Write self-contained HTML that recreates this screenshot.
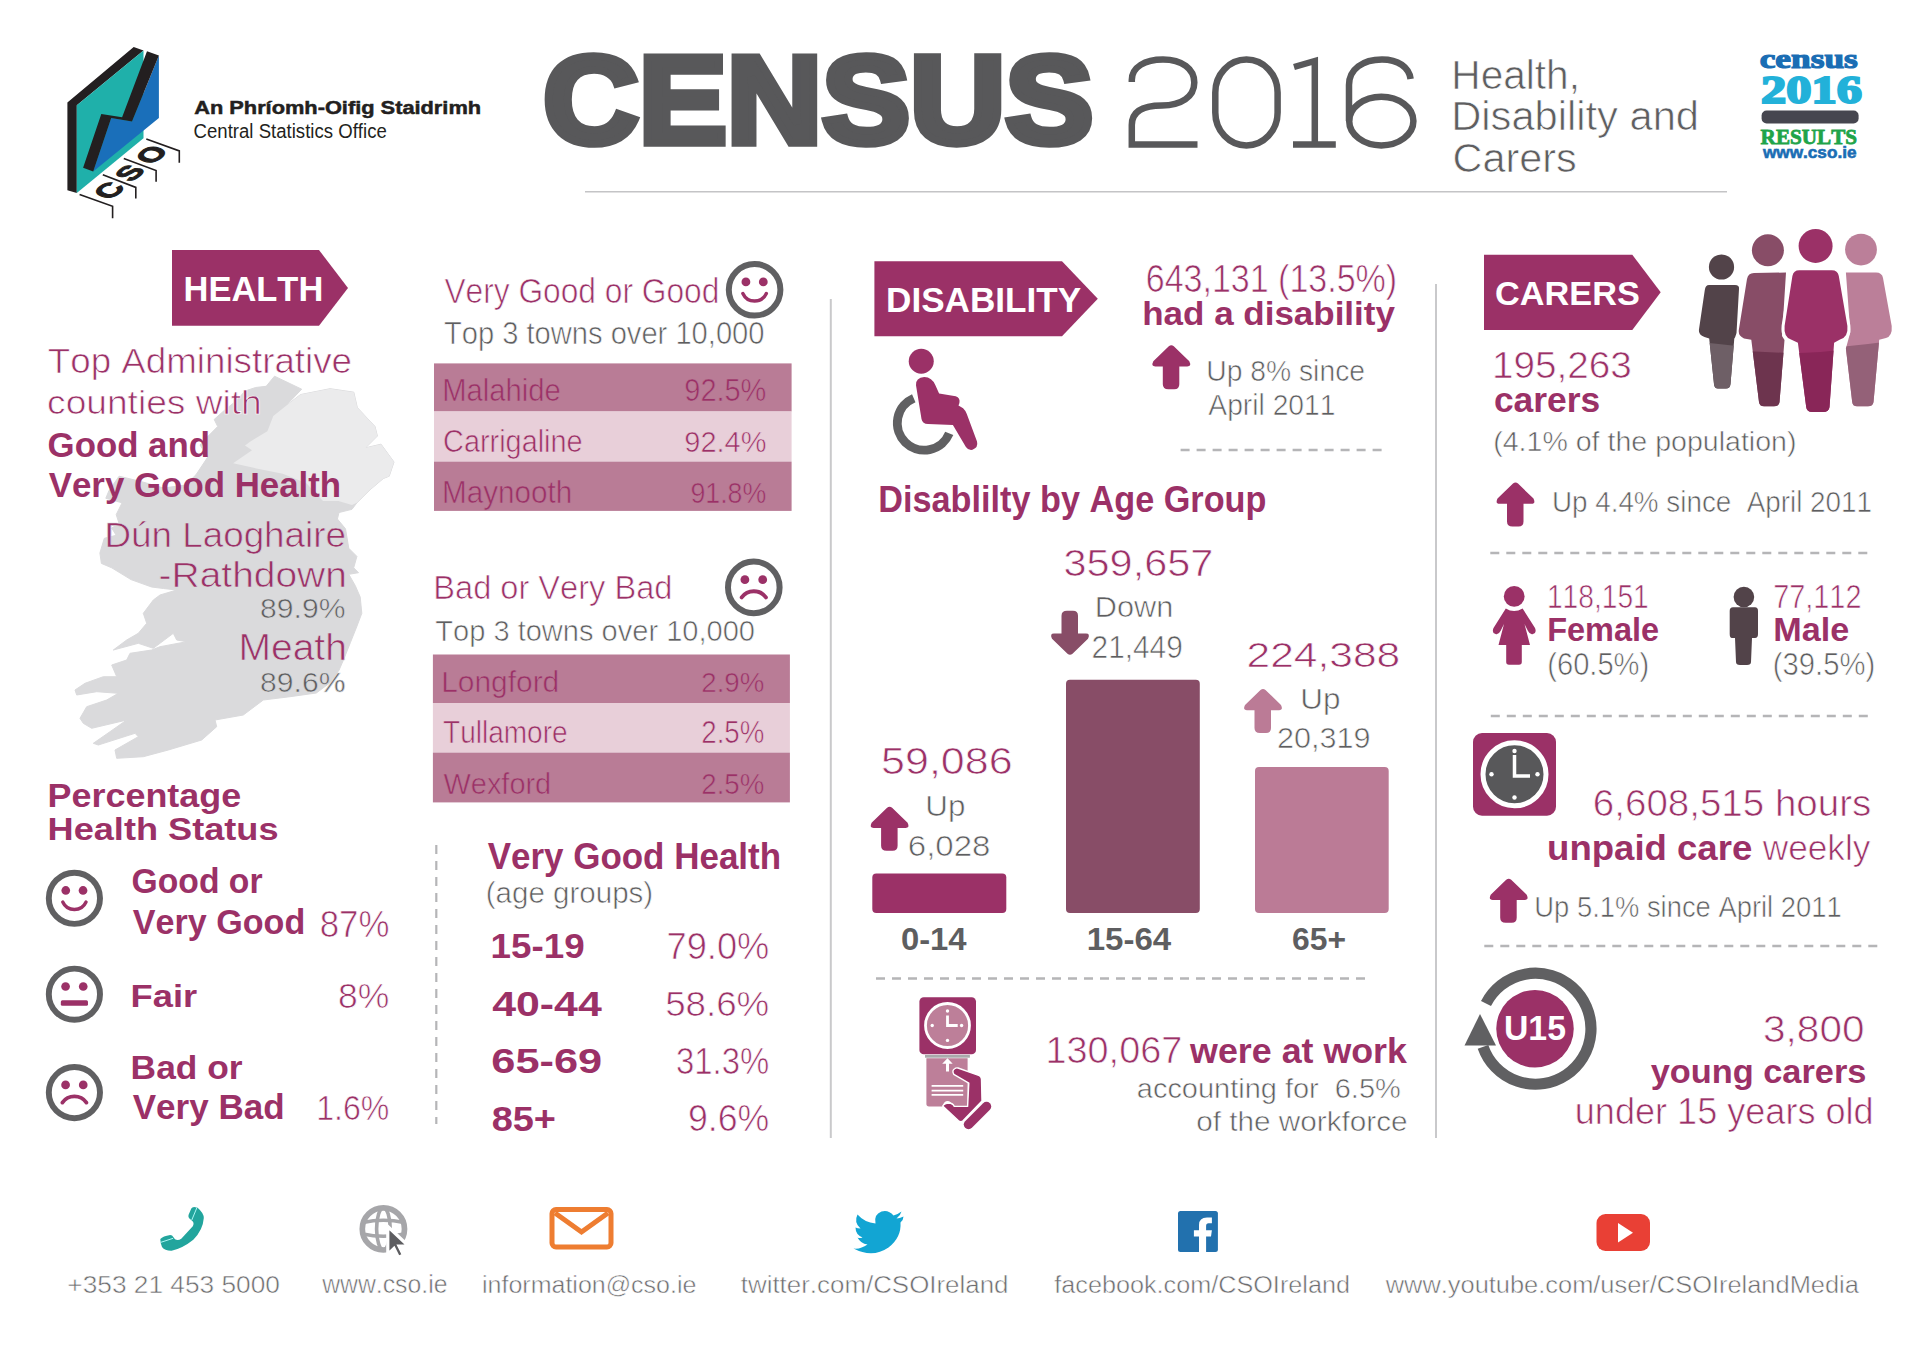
<!DOCTYPE html>
<html><head><meta charset="utf-8"><title>Census 2016 - Health, Disability and Carers</title>
<style>
html,body{margin:0;padding:0;background:#ffffff;}
svg{display:block;}
text{white-space:pre;font-family:"Liberation Sans",sans-serif;font-kerning:none;font-variant-ligatures:none;}
</style></head>
<body>
<svg width="1920" height="1353" viewBox="0 0 1920 1353">
<rect width="1920" height="1353" fill="#ffffff"/>
<polygon fill="#231f20" points="67.4,102.4 133.7,46.9 143.5,50.4 76.8,105.2 76.8,193 67.4,190.2"/>
<polygon fill="#1fb0aa" points="76.8,105.2 143.5,50.4 143.5,138.2 76.8,193"/>
<polygon fill="#1a6fba" points="158.9,55.4 158.9,117.9 93.2,171.5 111.2,117.9 132,121.4"/>
<polygon fill="#231f20" points="147,51.2 158.9,55.4 132,121.4 111.2,117.9 93.2,171.5 83.1,167.7 101.3,113.9 122.1,117.2"/>
<polyline fill="none" stroke="#231f20" stroke-width="1.6" points="79.6,194.4 112.6,206.3 112.6,218.3"/>
<polyline fill="none" stroke="#231f20" stroke-width="1.6" points="102.8,174.7 135.8,187.4 135.8,198.6"/>
<polyline fill="none" stroke="#231f20" stroke-width="1.6" points="123.8,158.6 156.1,170.5 156.1,181.8"/>
<polyline fill="none" stroke="#231f20" stroke-width="1.6" points="146.3,138.9 179.3,150.9 179.3,162.8"/>
<text x="0" y="0" font-size="29" font-weight="bold" fill="#231f20" stroke="#231f20" stroke-width="1.3" text-anchor="middle" transform="translate(109.1,190.4) matrix(0.767,-0.642,0.94,0.34,0,0)" dy="10">C</text>
<text x="0" y="0" font-size="29" font-weight="bold" fill="#231f20" stroke="#231f20" stroke-width="1.3" text-anchor="middle" transform="translate(129.8,172.8) matrix(0.767,-0.642,0.94,0.34,0,0)" dy="10">S</text>
<text x="0" y="0" font-size="29" font-weight="bold" fill="#231f20" stroke="#231f20" stroke-width="1.3" text-anchor="middle" transform="translate(151.6,154.7) matrix(0.767,-0.642,0.94,0.34,0,0)" dy="10">O</text>
<text x="194.21" y="114.35" font-size="18.75" font-weight="bold" fill="#231f20" stroke="#231f20" stroke-width="0.5" stroke-linejoin="miter" textLength="286.89" lengthAdjust="spacingAndGlyphs">An Phríomh-Oifig Staidrimh</text>
<text x="193.56" y="137.60" font-size="19.77" fill="#231f20" textLength="193.27" lengthAdjust="spacingAndGlyphs">Central Statistics Office</text>
<text x="543.34" y="143.25" font-size="123.55" font-weight="bold" fill="#58585a" stroke="#58585a" stroke-width="7.5" stroke-linejoin="miter" textLength="550.07" lengthAdjust="spacingAndGlyphs">CENSUS</text>
<g fill="none" stroke="#58585a" stroke-width="6.5"><path d="M1131.8,82 L1131.8,80 C1131.8,67 1145,59.5 1163,59.5 C1182,59.5 1194.3,69 1194.3,82.5 C1194.3,97 1181,105.5 1162,105.5 C1143,105.5 1131.8,111 1131.8,125 L1131.8,144.5 L1197.5,144.5"/><rect x="1215.3" y="59.5" width="62.3" height="86" rx="31.1" ry="33"/><path d="M1294,67 L1314.8,61 L1314.8,144.5 M1293,144.5 L1335.8,144.5"/><path d="M1349,121 L1349,85 C1349,69 1363,59.5 1382,59.5 C1398,59.5 1409,67 1410.6,79"/><ellipse cx="1381.3" cy="121.1" rx="32.1" ry="24.3"/></g>
<text x="1451.32" y="88.75" font-size="40.84" fill="#5e5e60" stroke="#ffffff" stroke-width="0.70" textLength="128.68" lengthAdjust="spacingAndGlyphs">Health,</text>
<text x="1451.23" y="130.35" font-size="40.26" fill="#5e5e60" stroke="#ffffff" stroke-width="0.70" textLength="247.80" lengthAdjust="spacingAndGlyphs">Disability and</text>
<text x="1452.55" y="172.35" font-size="40.26" fill="#5e5e60" stroke="#ffffff" stroke-width="0.70" textLength="124.30" lengthAdjust="spacingAndGlyphs">Carers</text>
<line x1="585" y1="191.8" x2="1727" y2="191.8" stroke="#c4c4c6" stroke-width="1.6"/>
<text x="1759.69" y="67.70" font-size="27.65" font-weight="bold" fill="#1a6db4" stroke="#1a6db4" stroke-width="1.2" stroke-linejoin="miter" textLength="98.08" lengthAdjust="spacingAndGlyphs" style="font-family:'Liberation Serif',serif">census</text>
<text x="1761.13" y="103.30" font-size="40.97" font-weight="bold" fill="#22b1d9" stroke="#22b1d9" stroke-width="2.2" stroke-linejoin="miter" textLength="100.91" lengthAdjust="spacingAndGlyphs" style="font-family:'Liberation Serif',serif">2016</text>
<rect x="1761.6" y="110.5" width="97" height="13" rx="5" fill="#46464f"/>
<text x="1760.62" y="143.80" font-size="21.80" font-weight="bold" fill="#1fa449" stroke="#1fa449" stroke-width="0.8" stroke-linejoin="miter" textLength="96.49" lengthAdjust="spacingAndGlyphs" style="font-family:'Liberation Serif',serif">RESULTS</text>
<text x="1762.95" y="158.30" font-size="17.05" font-weight="bold" fill="#1a6db4" stroke="#1a6db4" stroke-width="0.6" stroke-linejoin="miter" textLength="93.54" lengthAdjust="spacingAndGlyphs">www.cso.ie</text>
<polygon fill="#9b3167" points="172,250 319,250 348,288 319,325.7 172,325.7"/>
<text x="183.49" y="301.00" font-size="34.88" font-weight="bold" fill="#ffffff" textLength="139.83" lengthAdjust="spacingAndGlyphs">HEALTH</text>
<polygon fill="#dadadc" stroke="#dadadc" stroke-width="1" stroke-linejoin="round" points="274.5,376.2 301.7,389.2 285.2,406.4 300.5,394.6 330.1,388.7 353.8,392.2 357.3,407.6 375,426.5 377.4,436 365.6,447.8 381,444.2 394,462 389.2,476.2 383.3,478.5 370,489.8 356.9,502.8 352,509.3 339,512.5 337.4,519 345.5,528.8 348.8,548.3 356.9,556.4 353.7,567.8 358.5,572.7 348.8,574.3 355.3,585.7 360.2,597 361.8,613.3 356.9,626.3 350.4,642.6 343.9,658.9 339,670.2 329.3,683.3 316.3,693 290,696.7 263.3,700 243.3,715 215,720 216.7,726.7 201.7,740 168.3,750 143.3,756.7 116.7,758.3 115,750 138.3,736.7 135,733.3 98.3,745 93.3,743.3 110,731.7 126.7,720 91.7,728.3 83.3,723.3 80,718.3 86.7,706.7 106.7,700 118.3,693.3 96.7,691.7 76.7,695 75,690 85,683.3 103.3,676.7 116.7,676.7 111.7,665 126.7,660 130,653.3 151.7,650 160,646.7 186.7,641.7 176.7,640 173.3,633.3 153.3,648.3 138.3,643.3 113.3,650 126.7,640 138.3,633.3 146.7,623.3 143.3,613.3 153.3,600 160,595 176.7,590 163.5,588.5 151.6,587 131,579.6 111.7,567.8 101.4,563.4 99.9,553 104.3,538.3 116.2,535.3 111.7,528 119.1,523.5 116.2,514.6 122.1,502.8 105.8,498.3 108.8,491 119.1,476.2 142.8,482 163.5,488 185.6,485 196,474.7 207.8,457 200,445 208.3,436 217.7,426.5 214.2,419.4 224.8,410 236.7,400.5 245,391 255.6,387.5 266.2,386.3"/>
<polygon fill="#ebebec" points="285.2,406.4 300.5,394.6 330.1,388.7 353.8,392.2 357.3,407.6 375,426.5 377.4,436 365.6,447.8 381,444.2 394,462 389.2,476.2 383.3,478.5 370,489.8 356.9,502.8 352,505 338.4,501 323,501 306.4,483.3 282.8,473.8 259,469 233.1,463.2 252,450.2 245,445.4 249.7,441.9 267.4,431.2 273.3,415.9"/>
<text x="47.82" y="373.35" font-size="35.17" fill="#9b3167" stroke="#ffffff" stroke-width="0.70" textLength="304.16" lengthAdjust="spacingAndGlyphs">Top Administrative</text>
<text x="47.07" y="414.35" font-size="33.26" fill="#9b3167" stroke="#ffffff" stroke-width="0.70" textLength="214.69" lengthAdjust="spacingAndGlyphs">counties with</text>
<text x="47.57" y="456.50" font-size="35.90" font-weight="bold" fill="#9b3167" textLength="162.42" lengthAdjust="spacingAndGlyphs">Good and</text>
<text x="48.76" y="496.50" font-size="35.61" font-weight="bold" fill="#9b3167" textLength="292.40" lengthAdjust="spacingAndGlyphs">Very Good Health</text>
<text x="104.43" y="546.95" font-size="35.32" fill="#9b3167" stroke="#dadadc" stroke-width="0.70" textLength="241.56" lengthAdjust="spacingAndGlyphs">Dún Laoghaire</text>
<text x="158.62" y="586.95" font-size="35.32" fill="#9b3167" stroke="#dadadc" stroke-width="0.70" textLength="188.26" lengthAdjust="spacingAndGlyphs">-Rathdown</text>
<text x="260.14" y="618.35" font-size="26.79" fill="#5e5e60" stroke="#dadadc" stroke-width="0.56" textLength="85.28" lengthAdjust="spacingAndGlyphs">89.9%</text>
<text x="238.45" y="660.35" font-size="36.48" fill="#9b3167" stroke="#dadadc" stroke-width="0.70" textLength="108.43" lengthAdjust="spacingAndGlyphs">Meath</text>
<text x="260.14" y="691.95" font-size="27.94" fill="#5e5e60" stroke="#dadadc" stroke-width="0.59" textLength="85.28" lengthAdjust="spacingAndGlyphs">89.6%</text>
<text x="47.60" y="807.30" font-size="32.41" font-weight="bold" fill="#9b3167" textLength="193.63" lengthAdjust="spacingAndGlyphs">Percentage</text>
<text x="47.58" y="839.80" font-size="32.27" font-weight="bold" fill="#9b3167" textLength="230.90" lengthAdjust="spacingAndGlyphs">Health Status</text>
<circle cx="74.4" cy="898.3" r="25.6" fill="none" stroke="#606062" stroke-width="5.94"/>
<circle cx="65.77" cy="890.47" r="4.35" fill="#9b3167"/><circle cx="83.03" cy="890.47" r="4.35" fill="#9b3167"/>
<path d="M62.75,901.96 A12.80,12.80 0 0 0 86.05,901.96" fill="none" stroke="#9b3167" stroke-width="3.38" stroke-linecap="round"/>
<circle cx="74.4" cy="994.2" r="25.6" fill="none" stroke="#606062" stroke-width="5.94"/>
<circle cx="65.57" cy="986.52" r="4.35" fill="#9b3167"/><circle cx="83.23" cy="986.52" r="4.35" fill="#9b3167"/>
<rect x="60.83" y="1000.22" width="27.14" height="5.63" rx="1.54" fill="#9b3167"/>
<circle cx="74.4" cy="1092.6" r="25.6" fill="none" stroke="#606062" stroke-width="5.94"/>
<circle cx="65.57" cy="1084.92" r="4.35" fill="#9b3167"/><circle cx="83.23" cy="1084.92" r="4.35" fill="#9b3167"/>
<path d="M62.37,1102.58 A14.85,14.85 0 0 1 86.43,1102.58" fill="none" stroke="#9b3167" stroke-width="3.84" stroke-linecap="round"/>
<text x="131.62" y="893.00" font-size="34.30" font-weight="bold" fill="#9b3167" textLength="130.89" lengthAdjust="spacingAndGlyphs">Good or</text>
<text x="132.77" y="934.40" font-size="34.30" font-weight="bold" fill="#9b3167" textLength="172.48" lengthAdjust="spacingAndGlyphs">Very Good</text>
<text x="319.74" y="937.15" font-size="36.53" fill="#9b3167" stroke="#ffffff" stroke-width="0.70" textLength="69.65" lengthAdjust="spacingAndGlyphs">87%</text>
<text x="130.57" y="1006.80" font-size="32.27" font-weight="bold" fill="#9b3167" textLength="66.58" lengthAdjust="spacingAndGlyphs">Fair</text>
<text x="338.11" y="1008.35" font-size="34.53" fill="#9b3167" stroke="#ffffff" stroke-width="0.70" textLength="51.31" lengthAdjust="spacingAndGlyphs">8%</text>
<text x="130.64" y="1079.00" font-size="34.01" font-weight="bold" fill="#9b3167" textLength="111.90" lengthAdjust="spacingAndGlyphs">Bad or</text>
<text x="132.76" y="1119.00" font-size="34.16" font-weight="bold" fill="#9b3167" textLength="151.85" lengthAdjust="spacingAndGlyphs">Very Bad</text>
<text x="316.21" y="1119.85" font-size="35.39" fill="#9b3167" stroke="#ffffff" stroke-width="0.70" textLength="73.09" lengthAdjust="spacingAndGlyphs">1.6%</text>
<text x="444.41" y="302.55" font-size="34.16" fill="#9b3167" stroke="#ffffff" stroke-width="0.70" textLength="274.98" lengthAdjust="spacingAndGlyphs">Very Good or Good</text>
<circle cx="754.6" cy="289.8" r="25.8" fill="none" stroke="#606062" stroke-width="5.99"/>
<circle cx="745.91" cy="281.91" r="4.39" fill="#9b3167"/><circle cx="763.29" cy="281.91" r="4.39" fill="#9b3167"/>
<path d="M742.86,293.49 A12.90,12.90 0 0 0 766.34,293.49" fill="none" stroke="#9b3167" stroke-width="3.41" stroke-linecap="round"/>
<text x="443.90" y="344.35" font-size="30.67" fill="#5e5e60" stroke="#ffffff" stroke-width="0.64" textLength="320.59" lengthAdjust="spacingAndGlyphs">Top 3 towns over 10,000</text>
<rect x="434" y="363.4" width="357.6" height="48.10000000000002" fill="#b97c96"/>
<rect x="434" y="411.5" width="357.6" height="50.10000000000002" fill="#e8cfd9"/>
<rect x="434" y="461.6" width="357.6" height="49.299999999999955" fill="#b97c96"/>
<text x="442.15" y="401.05" font-size="31.10" fill="#9b3167" stroke="#b97c96" stroke-width="0.65" textLength="118.49" lengthAdjust="spacingAndGlyphs">Malahide</text>
<text x="684.29" y="401.05" font-size="30.66" fill="#9b3167" stroke="#b97c96" stroke-width="0.64" textLength="82.09" lengthAdjust="spacingAndGlyphs">92.5%</text>
<text x="443.08" y="452.35" font-size="30.67" fill="#9b3167" stroke="#e8cfd9" stroke-width="0.64" textLength="139.55" lengthAdjust="spacingAndGlyphs">Carrigaline</text>
<text x="684.29" y="452.35" font-size="30.23" fill="#9b3167" stroke="#e8cfd9" stroke-width="0.63" textLength="82.09" lengthAdjust="spacingAndGlyphs">92.4%</text>
<text x="442.12" y="502.65" font-size="30.52" fill="#9b3167" stroke="#b97c96" stroke-width="0.64" textLength="130.16" lengthAdjust="spacingAndGlyphs">Maynooth</text>
<text x="690.40" y="502.65" font-size="30.09" fill="#9b3167" stroke="#b97c96" stroke-width="0.63" textLength="75.91" lengthAdjust="spacingAndGlyphs">91.8%</text>
<text x="433.28" y="599.35" font-size="33.72" fill="#9b3167" stroke="#ffffff" stroke-width="0.70" textLength="239.17" lengthAdjust="spacingAndGlyphs">Bad or Very Bad</text>
<circle cx="753.8" cy="587.4" r="25.8" fill="none" stroke="#606062" stroke-width="5.99"/>
<circle cx="744.90" cy="579.66" r="4.39" fill="#9b3167"/><circle cx="762.70" cy="579.66" r="4.39" fill="#9b3167"/>
<path d="M741.67,597.46 A14.96,14.96 0 0 1 765.93,597.46" fill="none" stroke="#9b3167" stroke-width="3.87" stroke-linecap="round"/>
<text x="435.30" y="641.15" font-size="29.07" fill="#5e5e60" stroke="#ffffff" stroke-width="0.61" textLength="319.69" lengthAdjust="spacingAndGlyphs">Top 3 towns over 10,000</text>
<rect x="432.9" y="654.5" width="357.0" height="48.5" fill="#b97c96"/>
<rect x="432.9" y="703" width="357.0" height="49.60000000000002" fill="#e8cfd9"/>
<rect x="432.9" y="752.6" width="357.0" height="49.799999999999955" fill="#b97c96"/>
<text x="441.20" y="692.35" font-size="28.63" fill="#9b3167" stroke="#b97c96" stroke-width="0.60" textLength="118.08" lengthAdjust="spacingAndGlyphs">Longford</text>
<text x="701.26" y="692.35" font-size="28.22" fill="#9b3167" stroke="#b97c96" stroke-width="0.59" textLength="63.08" lengthAdjust="spacingAndGlyphs">2.9%</text>
<text x="443.02" y="743.15" font-size="31.25" fill="#9b3167" stroke="#e8cfd9" stroke-width="0.66" textLength="124.57" lengthAdjust="spacingAndGlyphs">Tullamore</text>
<text x="701.26" y="743.15" font-size="30.80" fill="#9b3167" stroke="#e8cfd9" stroke-width="0.65" textLength="63.08" lengthAdjust="spacingAndGlyphs">2.5%</text>
<text x="443.52" y="794.15" font-size="30.38" fill="#9b3167" stroke="#b97c96" stroke-width="0.64" textLength="107.69" lengthAdjust="spacingAndGlyphs">Wexford</text>
<text x="701.26" y="794.15" font-size="29.94" fill="#9b3167" stroke="#b97c96" stroke-width="0.63" textLength="63.08" lengthAdjust="spacingAndGlyphs">2.5%</text>
<line x1="436.3" y1="845" x2="436.3" y2="1124" stroke="#b5b5b7" stroke-width="2.2" stroke-dasharray="9 7"/>
<text x="487.66" y="869.00" font-size="36.48" font-weight="bold" fill="#9b3167" textLength="293.41" lengthAdjust="spacingAndGlyphs">Very Good Health</text>
<text x="485.72" y="903.35" font-size="30.38" fill="#5e5e60" stroke="#ffffff" stroke-width="0.64" textLength="167.46" lengthAdjust="spacingAndGlyphs">(age groups)</text>
<text x="490.58" y="958.20" font-size="35.24" font-weight="bold" fill="#9b3167" textLength="94.19" lengthAdjust="spacingAndGlyphs">15-19</text>
<text x="666.59" y="958.55" font-size="36.25" fill="#9b3167" stroke="#ffffff" stroke-width="0.70" textLength="102.65" lengthAdjust="spacingAndGlyphs">79.0%</text>
<text x="492.25" y="1016.00" font-size="34.81" font-weight="bold" fill="#9b3167" textLength="109.48" lengthAdjust="spacingAndGlyphs">40-44</text>
<text x="665.18" y="1016.35" font-size="35.82" fill="#9b3167" stroke="#ffffff" stroke-width="0.70" textLength="104.08" lengthAdjust="spacingAndGlyphs">58.6%</text>
<text x="491.31" y="1073.30" font-size="35.24" font-weight="bold" fill="#9b3167" textLength="110.79" lengthAdjust="spacingAndGlyphs">65-69</text>
<text x="676.00" y="1073.65" font-size="36.25" fill="#9b3167" stroke="#ffffff" stroke-width="0.70" textLength="93.12" lengthAdjust="spacingAndGlyphs">31.3%</text>
<text x="491.70" y="1131.00" font-size="35.10" font-weight="bold" fill="#9b3167" textLength="64.34" lengthAdjust="spacingAndGlyphs">85+</text>
<text x="687.98" y="1131.35" font-size="36.10" fill="#9b3167" stroke="#ffffff" stroke-width="0.70" textLength="81.24" lengthAdjust="spacingAndGlyphs">9.6%</text>
<line x1="830.8" y1="299" x2="830.8" y2="1138" stroke="#c9c9cb" stroke-width="2"/>
<line x1="1436" y1="284" x2="1436" y2="1138" stroke="#c9c9cb" stroke-width="2"/>
<polygon fill="#9b3167" points="874.4,261.25 1062,261.25 1097.8,298.75 1062,336.25 874.4,336.25"/>
<text x="886.05" y="311.90" font-size="34.16" font-weight="bold" fill="#ffffff" textLength="195.12" lengthAdjust="spacingAndGlyphs">DISABILITY</text>
<text x="1145.72" y="291.95" font-size="37.97" fill="#9b3167" stroke="#ffffff" stroke-width="0.70" textLength="251.44" lengthAdjust="spacingAndGlyphs">643,131 (13.5%)</text>
<text x="1142.26" y="325.00" font-size="33.12" font-weight="bold" fill="#9b3167" textLength="252.63" lengthAdjust="spacingAndGlyphs">had a disability</text>
<path transform="translate(1152.3,345.3) scale(1.0)" fill="#9b3167" d="M16.5,1 Q19,-1 21.5,1 L37,16 Q39.5,21.2 35,21.2 L27,21.2 L27,39 Q27,44 22,44 L16,44 Q10.5,44 10.5,39 L10.5,21.2 L3,21.2 Q-1.5,21.2 1,16 Z"/>
<text x="1206.22" y="380.95" font-size="29.51" fill="#5e5e60" stroke="#ffffff" stroke-width="0.62" textLength="158.79" lengthAdjust="spacingAndGlyphs">Up 8% since</text>
<text x="1208.34" y="414.75" font-size="29.65" fill="#5e5e60" stroke="#ffffff" stroke-width="0.62" textLength="127.13" lengthAdjust="spacingAndGlyphs">April 2011</text>
<line x1="1180.6" y1="450" x2="1388.4" y2="450" stroke="#b5b5b7" stroke-width="2.5" stroke-dasharray="9 7"/>
<circle cx="921.25" cy="361.25" r="12.5" fill="#9b3167"/>
<path fill="#9b3167" d="M916,385.2 Q915.5,377.5 924.3,376.9 Q932,377 935.4,385.2 L939.1,393.6 L955.7,396.3 Q960.5,398 959.4,403 L958.5,405.6 L963.1,408.3 Q965,410 966.8,413.9 L977,441.6 Q978.5,447.5 972.5,449.8 Q968,450.5 965.9,447.1 L952.9,425 L928,424 Q922.5,424 921.5,419 Z"/>
<path fill="none" stroke="#606062" stroke-width="8.8" d="M913.75,398.25 A27,27 0 1 0 949.25,433.4"/>
<text x="878.31" y="511.90" font-size="36.34" font-weight="bold" fill="#9b3167" textLength="388.09" lengthAdjust="spacingAndGlyphs">Disablilty by Age Group</text>
<rect x="872.3" y="873.5" width="134" height="39.5" rx="4" fill="#9b3167"/>
<rect x="1066" y="679.7" width="133.8" height="233.3" rx="4" fill="#884d67"/>
<rect x="1255" y="767" width="133.7" height="146" rx="4" fill="#bb7b96"/>
<text x="881.13" y="774.15" font-size="37.25" fill="#9b3167" stroke="#ffffff" stroke-width="0.70" textLength="131.41" lengthAdjust="spacingAndGlyphs">59,086</text>
<text x="925.23" y="815.65" font-size="29.07" fill="#5e5e60" stroke="#ffffff" stroke-width="0.61" textLength="40.14" lengthAdjust="spacingAndGlyphs">Up</text>
<text x="907.77" y="855.55" font-size="29.51" fill="#5e5e60" stroke="#ffffff" stroke-width="0.62" textLength="82.71" lengthAdjust="spacingAndGlyphs">6,028</text>
<path transform="translate(870.6,806.7) scale(1.0)" fill="#9b3167" d="M16.5,1 Q19,-1 21.5,1 L37,16 Q39.5,21.2 35,21.2 L27,21.2 L27,39 Q27,44 22,44 L16,44 Q10.5,44 10.5,39 L10.5,21.2 L3,21.2 Q-1.5,21.2 1,16 Z"/>
<text x="1063.57" y="575.95" font-size="37.68" fill="#9b3167" stroke="#ffffff" stroke-width="0.70" textLength="149.66" lengthAdjust="spacingAndGlyphs">359,657</text>
<text x="1094.83" y="616.85" font-size="30.09" fill="#5e5e60" stroke="#ffffff" stroke-width="0.63" textLength="78.51" lengthAdjust="spacingAndGlyphs">Down</text>
<text x="1091.55" y="657.75" font-size="31.09" fill="#5e5e60" stroke="#ffffff" stroke-width="0.65" textLength="91.21" lengthAdjust="spacingAndGlyphs">21,449</text>
<path transform="translate(1051,654.8) scale(1.0,-1.0)" fill="#884d67" d="M16.5,1 Q19,-1 21.5,1 L37,16 Q39.5,21.2 35,21.2 L27,21.2 L27,39 Q27,44 22,44 L16,44 Q10.5,44 10.5,39 L10.5,21.2 L3,21.2 Q-1.5,21.2 1,16 Z"/>
<text x="1246.51" y="667.35" font-size="35.39" fill="#9b3167" stroke="#ffffff" stroke-width="0.70" textLength="153.69" lengthAdjust="spacingAndGlyphs">224,388</text>
<text x="1300.22" y="708.95" font-size="28.63" fill="#5e5e60" stroke="#ffffff" stroke-width="0.60" textLength="40.25" lengthAdjust="spacingAndGlyphs">Up</text>
<text x="1277.11" y="748.15" font-size="28.65" fill="#5e5e60" stroke="#ffffff" stroke-width="0.60" textLength="93.48" lengthAdjust="spacingAndGlyphs">20,319</text>
<path transform="translate(1244,689) scale(1.0)" fill="#bb7b96" d="M16.5,1 Q19,-1 21.5,1 L37,16 Q39.5,21.2 35,21.2 L27,21.2 L27,39 Q27,44 22,44 L16,44 Q10.5,44 10.5,39 L10.5,21.2 L3,21.2 Q-1.5,21.2 1,16 Z"/>
<text x="900.90" y="949.70" font-size="30.52" font-weight="bold" fill="#5e5e60" textLength="65.67" lengthAdjust="spacingAndGlyphs">0-14</text>
<text x="1086.72" y="949.70" font-size="30.52" font-weight="bold" fill="#5e5e60" textLength="84.46" lengthAdjust="spacingAndGlyphs">15-64</text>
<text x="1292.14" y="949.70" font-size="30.52" font-weight="bold" fill="#5e5e60" textLength="53.95" lengthAdjust="spacingAndGlyphs">65+</text>
<line x1="876" y1="978.5" x2="1372" y2="978.5" stroke="#b5b5b7" stroke-width="2.5" stroke-dasharray="9 7"/>
<rect x="919.4" y="997.2" width="56.6" height="57.1" rx="4.4" fill="#9b3167"/>
<circle cx="947.5" cy="1025.5" r="22" fill="#bd7f99" stroke="#ffffff" stroke-width="2.8"/>
<path d="M947.5,1015.5 L947.5,1025.5 L957.7,1025.5" fill="none" stroke="#fff" stroke-width="2.8"/>
<g fill="#fff"><circle cx="947.5" cy="1011" r="1.7"/><circle cx="947.5" cy="1040.4" r="1.7"/><circle cx="932.2" cy="1025.5" r="1.7"/><circle cx="961.6" cy="1025.5" r="1.7"/></g>
<rect x="925" y="1054.9" width="44.9" height="2.8" fill="#a9a9ab"/>
<path fill="#bd7f99" d="M926.4,1058.2 L967.6,1058.2 L967.6,1106.4 L953,1106.4 Q951,1101 947.7,1101 Q944,1101 942.5,1106.4 L929,1106.4 Q926.4,1106.4 926.4,1104 Z"/>
<path fill="#fff" d="M947.5,1058.2 L952.7,1063.7 L949,1063.7 L949,1071.5 L946,1071.5 L946,1063.7 L942.2,1063.7 Z"/>
<g stroke="#fff" stroke-width="1.8"><line x1="931.6" y1="1085.9" x2="963.2" y2="1085.9"/><line x1="931.6" y1="1090.6" x2="963.2" y2="1090.6"/><line x1="931.6" y1="1094.8" x2="963.2" y2="1094.8"/></g>
<path fill="#9b3167" stroke="#fff" stroke-width="1.4" stroke-linejoin="round" d="M955,1068.5 Q951.5,1070.5 953.8,1074.3 L968.8,1083.1 L967.6,1106.4 L954.3,1106.4 Q953,1103.3 948.8,1103 Q944.5,1103 942.7,1106 L958.5,1120.8 Q961,1122.5 963,1120.8 L982,1100.9 L981.5,1079 Q981,1076 978.7,1075.4 L958,1068 Q956,1067.5 955,1068.5 Z"/>
<line x1="968.5" y1="1124.5" x2="986.5" y2="1106.5" stroke="#fff" stroke-width="12.5" stroke-linecap="round"/>
<line x1="968.5" y1="1124.5" x2="986.5" y2="1106.5" stroke="#9b3167" stroke-width="9.5" stroke-linecap="round"/>
<text x="1045.52" y="1062.85" font-size="36.82" fill="#9b3167" stroke="#ffffff" stroke-width="0.70" textLength="136.73" lengthAdjust="spacingAndGlyphs">130,067</text>
<text x="1190.10" y="1062.50" font-size="34.50" font-weight="bold" fill="#9b3167" textLength="216.86" lengthAdjust="spacingAndGlyphs">were at work</text>
<text x="1136.82" y="1097.85" font-size="27.88" fill="#5e5e60" stroke="#ffffff" stroke-width="0.59" textLength="263.96" lengthAdjust="spacingAndGlyphs">accounting for  6.5%</text>
<text x="1196.20" y="1130.65" font-size="27.60" fill="#5e5e60" stroke="#ffffff" stroke-width="0.58" textLength="211.47" lengthAdjust="spacingAndGlyphs">of the workforce</text>
<polygon fill="#9b3167" points="1484,254.7 1632.3,254.7 1660.7,292.3 1632.3,330 1484,330"/>
<text x="1495.09" y="305.40" font-size="33.58" font-weight="bold" fill="#ffffff" textLength="144.74" lengthAdjust="spacingAndGlyphs">CARERS</text>
<clipPath id="cp1"><path d="M1690,341 Q1720,344 1745,347 L1745,400 L1690,400 Z"/></clipPath>
<circle cx="1721.5" cy="267" r="12.6" fill="#524349"/>
<path d="M1709,285 L1735,285 Q1739.5,285 1739,289 L1736.5,333 Q1735,338 1734.3,338.5 L1730.5,384 Q1730,388.5 1726,388.5 L1718,388.5 Q1714.4,388.5 1714,384 L1709.2,338.5 L1704.5,337 Q1698.5,335 1698.9,330 L1704.8,290 Q1705.5,285 1709,285 Z" fill="#524349"/>
<path d="M1709,285 L1735,285 Q1739.5,285 1739,289 L1736.5,333 Q1735,338 1734.3,338.5 L1730.5,384 Q1730,388.5 1726,388.5 L1718,388.5 Q1714.4,388.5 1714,384 L1709.2,338.5 L1704.5,337 Q1698.5,335 1698.9,330 L1704.8,290 Q1705.5,285 1709,285 Z" fill="#6e5f66" clip-path="url(#cp1)"/>
<clipPath id="cp2"><path d="M1730,350 Q1760,352 1790,353 L1790,420 L1730,420 Z"/></clipPath>
<circle cx="1767.9" cy="250.3" r="16" fill="#884d67"/>
<path d="M1754,273 L1786,272.5 L1782,336 L1784.5,340 L1779.5,402 Q1779,406.2 1774,406.2 L1764,406.2 Q1759.5,406.2 1759,402 L1751.3,339.7 L1744,338.5 Q1738,336 1738.8,330 L1747,279 Q1748,273 1754,273 Z" fill="#884d67"/>
<path d="M1754,273 L1786,272.5 L1782,336 L1784.5,340 L1779.5,402 Q1779,406.2 1774,406.2 L1764,406.2 Q1759.5,406.2 1759,402 L1751.3,339.7 L1744,338.5 Q1738,336 1738.8,330 L1747,279 Q1748,273 1754,273 Z" fill="#6d344e" clip-path="url(#cp2)"/>
<clipPath id="cp4"><path d="M1840,347 Q1870,344 1900,340 L1900,420 L1840,420 Z"/></clipPath>
<circle cx="1861" cy="249.6" r="15.9" fill="#bb7f99"/>
<path d="M1845.9,272.5 L1876,272.5 Q1882,272.5 1883,278 L1891.7,326 Q1892.5,336 1886,338 L1879.2,339.7 L1873.5,402 Q1873,406.2 1868,406.2 L1857,406.2 Q1852.6,406.2 1852.2,402 L1845.9,348.6 L1850.3,332.3 Z" fill="#bb7f99"/>
<path d="M1845.9,272.5 L1876,272.5 Q1882,272.5 1883,278 L1891.7,326 Q1892.5,336 1886,338 L1879.2,339.7 L1873.5,402 Q1873,406.2 1868,406.2 L1857,406.2 Q1852.6,406.2 1852.2,402 L1845.9,348.6 L1850.3,332.3 Z" fill="#946178" clip-path="url(#cp4)"/>
<clipPath id="cp3"><path d="M1780,353 Q1815,354 1850,348.6 L1850,420 L1780,420 Z"/></clipPath>
<path d="M1799.4,270.2 L1831.8,270.2 Q1837.8,270.2 1838.8,276 L1847.4,326 Q1848.5,337 1840,339.5 L1834.1,342.7 L1829.5,407 Q1829,412.1 1823,412.1 L1812.5,412.1 Q1806.7,412.1 1806.2,407 L1797.9,342.7 L1791,339.5 Q1783.5,337 1784.6,326 L1792.4,276 Q1793.4,270.2 1799.4,270.2 Z" fill="#fff" stroke="#fff" stroke-width="6" stroke-linejoin="round"/>
<circle cx="1815.6" cy="245.9" r="17" fill="#9b3167"/>
<path d="M1799.4,270.2 L1831.8,270.2 Q1837.8,270.2 1838.8,276 L1847.4,326 Q1848.5,337 1840,339.5 L1834.1,342.7 L1829.5,407 Q1829,412.1 1823,412.1 L1812.5,412.1 Q1806.7,412.1 1806.2,407 L1797.9,342.7 L1791,339.5 Q1783.5,337 1784.6,326 L1792.4,276 Q1793.4,270.2 1799.4,270.2 Z" fill="#9b3167"/>
<path d="M1799.4,270.2 L1831.8,270.2 Q1837.8,270.2 1838.8,276 L1847.4,326 Q1848.5,337 1840,339.5 L1834.1,342.7 L1829.5,407 Q1829,412.1 1823,412.1 L1812.5,412.1 Q1806.7,412.1 1806.2,407 L1797.9,342.7 L1791,339.5 Q1783.5,337 1784.6,326 L1792.4,276 Q1793.4,270.2 1799.4,270.2 Z" fill="#892658" clip-path="url(#cp3)"/>
<text x="1492.01" y="378.35" font-size="37.82" fill="#9b3167" stroke="#ffffff" stroke-width="0.70" textLength="139.74" lengthAdjust="spacingAndGlyphs">195,263</text>
<text x="1493.92" y="411.70" font-size="35.42" font-weight="bold" fill="#9b3167" textLength="106.34" lengthAdjust="spacingAndGlyphs">carers</text>
<text x="1493.18" y="451.05" font-size="26.74" fill="#5e5e60" stroke="#ffffff" stroke-width="0.56" textLength="303.34" lengthAdjust="spacingAndGlyphs">(4.1% of the population)</text>
<path transform="translate(1496.5,482.6) scale(1.0)" fill="#9b3167" d="M16.5,1 Q19,-1 21.5,1 L37,16 Q39.5,21.2 35,21.2 L27,21.2 L27,39 Q27,44 22,44 L16,44 Q10.5,44 10.5,39 L10.5,21.2 L3,21.2 Q-1.5,21.2 1,16 Z"/>
<text x="1551.90" y="511.85" font-size="30.23" fill="#5e5e60" stroke="#ffffff" stroke-width="0.63" textLength="320.10" lengthAdjust="spacingAndGlyphs">Up 4.4% since  April 2011</text>
<line x1="1490.3" y1="553" x2="1868.5" y2="553" stroke="#b5b5b7" stroke-width="2.5" stroke-dasharray="9 7"/>
<circle cx="1514.2" cy="596.4" r="10.4" fill="#9b3167"/>
<path fill="#9b3167" d="M1505.8,608.5 Q1514,613.5 1522.6,608.5 L1535,628 Q1537,633 1533,634 Q1530,635 1528,631 L1524.5,624 L1530,645 L1521.8,645 L1521.8,662 Q1521.8,664.8 1519,664.8 L1509,664.8 Q1506.2,664.8 1506.2,662 L1506.2,645 L1498.5,645 L1504,624 L1500.5,631 Q1498.5,635 1495.5,634 Q1491.5,633 1493.5,628 Z"/>
<text x="1546.90" y="607.65" font-size="32.95" fill="#9b3167" stroke="#ffffff" stroke-width="0.69" textLength="101.82" lengthAdjust="spacingAndGlyphs">118,151</text>
<text x="1547.23" y="641.30" font-size="32.41" font-weight="bold" fill="#9b3167" textLength="111.88" lengthAdjust="spacingAndGlyphs">Female</text>
<text x="1547.25" y="675.05" font-size="30.66" fill="#5e5e60" stroke="#ffffff" stroke-width="0.64" textLength="101.91" lengthAdjust="spacingAndGlyphs">(60.5%)</text>
<circle cx="1743.9" cy="597" r="10.3" fill="#524349"/>
<path fill="#524349" d="M1733,607.3 L1755,607.3 Q1758,607.3 1758,611 L1758,634 Q1758,638 1755,638 L1752,638 L1751,662 Q1751,665 1747,665 L1740,665 Q1736,665 1736,662 L1735,638 L1732,638 Q1729.7,638 1729.7,634 L1729.7,611 Q1729.7,607.3 1733,607.3 Z"/>
<text x="1773.17" y="607.65" font-size="32.95" fill="#9b3167" stroke="#ffffff" stroke-width="0.69" textLength="88.33" lengthAdjust="spacingAndGlyphs">77,112</text>
<text x="1773.21" y="641.30" font-size="32.41" font-weight="bold" fill="#9b3167" textLength="75.95" lengthAdjust="spacingAndGlyphs">Male</text>
<text x="1772.84" y="675.05" font-size="30.66" fill="#5e5e60" stroke="#ffffff" stroke-width="0.64" textLength="102.32" lengthAdjust="spacingAndGlyphs">(39.5%)</text>
<line x1="1490.8" y1="716" x2="1868.6" y2="716" stroke="#b5b5b7" stroke-width="2.5" stroke-dasharray="9 7"/>
<rect x="1473" y="733" width="83" height="82.7" rx="9" fill="#9b3167"/>
<circle cx="1514.5" cy="774.3" r="31.5" fill="#58585a" stroke="#fff" stroke-width="5"/>
<path d="M1514.5,755 L1514.5,776 L1530,776" fill="none" stroke="#fff" stroke-width="3.5"/>
<g fill="#fff"><circle cx="1514.5" cy="751" r="2.2"/><circle cx="1514.5" cy="797.5" r="2.2"/><circle cx="1491.5" cy="774.3" r="2.2"/><circle cx="1537.5" cy="774.3" r="2.2"/></g>
<text x="1592.89" y="816.05" font-size="36.68" fill="#9b3167" stroke="#ffffff" stroke-width="0.70" textLength="278.35" lengthAdjust="spacingAndGlyphs">6,608,515 hours</text>
<text x="1547.13" y="859.50" font-size="34.36" font-weight="bold" fill="#9b3167" textLength="205.12" lengthAdjust="spacingAndGlyphs">unpaid care</text>
<text x="1762.70" y="859.85" font-size="35.33" fill="#9b3167" stroke="#ffffff" stroke-width="0.70" textLength="107.72" lengthAdjust="spacingAndGlyphs">weekly</text>
<path transform="translate(1489.7,878.7) scale(1.0)" fill="#9b3167" d="M16.5,1 Q19,-1 21.5,1 L37,16 Q39.5,21.2 35,21.2 L27,21.2 L27,39 Q27,44 22,44 L16,44 Q10.5,44 10.5,39 L10.5,21.2 L3,21.2 Q-1.5,21.2 1,16 Z"/>
<text x="1534.34" y="917.25" font-size="29.65" fill="#5e5e60" stroke="#ffffff" stroke-width="0.62" textLength="307.35" lengthAdjust="spacingAndGlyphs">Up 5.1% since April 2011</text>
<line x1="1484.3" y1="946" x2="1879" y2="946" stroke="#b5b5b7" stroke-width="2.5" stroke-dasharray="9 7"/>
<path fill="none" stroke="#606062" stroke-width="11.2" d="M1483,1046.8 A55.5,55.5 0 1 0 1486,1003.55"/>
<polygon fill="#606062" points="1464.5,1045.5 1496,1045.5 1480,1014"/>
<circle cx="1535" cy="1028.75" r="38.75" fill="#9b3167"/>
<text x="1503.97" y="1040.00" font-size="34.88" font-weight="bold" fill="#fff" textLength="61.97" lengthAdjust="spacingAndGlyphs">U15</text>
<text x="1763.11" y="1041.60" font-size="37.18" fill="#9b3167" stroke="#ffffff" stroke-width="0.70" textLength="101.32" lengthAdjust="spacingAndGlyphs">3,800</text>
<text x="1650.73" y="1082.50" font-size="34.09" font-weight="bold" fill="#9b3167" textLength="215.68" lengthAdjust="spacingAndGlyphs">young carers</text>
<text x="1574.81" y="1124.10" font-size="36.50" fill="#9b3167" stroke="#ffffff" stroke-width="0.70" textLength="298.87" lengthAdjust="spacingAndGlyphs">under 15 years old</text>
<text x="67.37" y="1292.65" font-size="23.35" fill="#6d6d6f" stroke="#ffffff" stroke-width="0.49" textLength="212.51" lengthAdjust="spacingAndGlyphs">+353 21 453 5000</text>
<text x="322.19" y="1292.65" font-size="25.00" fill="#6d6d6f" stroke="#ffffff" stroke-width="0.52" textLength="125.26" lengthAdjust="spacingAndGlyphs">www.cso.ie</text>
<text x="481.98" y="1292.85" font-size="24.43" fill="#6d6d6f" stroke="#ffffff" stroke-width="0.51" textLength="214.48" lengthAdjust="spacingAndGlyphs">information@cso.ie</text>
<text x="740.76" y="1292.85" font-size="24.43" fill="#6d6d6f" stroke="#ffffff" stroke-width="0.51" textLength="267.76" lengthAdjust="spacingAndGlyphs">twitter.com/CSOIreland</text>
<text x="1054.29" y="1292.85" font-size="24.43" fill="#6d6d6f" stroke="#ffffff" stroke-width="0.51" textLength="295.68" lengthAdjust="spacingAndGlyphs">facebook.com/CSOIreland</text>
<text x="1385.69" y="1292.85" font-size="24.43" fill="#6d6d6f" stroke="#ffffff" stroke-width="0.51" textLength="473.16" lengthAdjust="spacingAndGlyphs">www.youtube.com/user/CSOIrelandMedia</text>
<path fill="#22a59d" d="M194.2,1207 L197.6,1207.7 Q203.8,1213 203.8,1218 Q203,1230 193.3,1239.7 Q183,1248 171.6,1250.8 Q165,1251 162,1247 Q160.3,1243 160.3,1239 Q163,1236 170.2,1235 Q172.5,1235 173.1,1236.8 L175,1239.2 Q177.9,1241 181.25,1238.75 L192.8,1226.25 Q194.5,1223 192.3,1221 L189.4,1218.6 Q188,1217 188.5,1215 L191.3,1208.5 Q192,1207 194.2,1207 Z"/>
<g stroke="#bff" stroke-width="0.9"><line x1="196.9" y1="1207.7" x2="191.8" y2="1220"/><line x1="173.1" y1="1238.3" x2="160.6" y2="1242.4"/></g>
<g fill="none" stroke="#a6a6a9"><circle cx="383.4" cy="1228.9" r="21.1" stroke-width="5.7"/><ellipse cx="383.4" cy="1228.9" rx="6.8" ry="21" stroke-width="3.6"/><path stroke-width="3.6" d="M363,1222.5 Q383.4,1218 404,1222.5 M363,1234 Q383.4,1238.5 404,1234"/></g>
<path fill="#5d5d60" stroke="#fff" stroke-width="3.2" stroke-linejoin="miter" d="M387.8,1226.5 L408.5,1246 L399,1246 L403.5,1255 L398.5,1257.5 L394,1248.5 L387.8,1254.5 Z"/>
<rect x="552" y="1209.5" width="59" height="37.5" rx="4" fill="none" stroke="#ee7d31" stroke-width="5"/>
<path d="M555,1213 L581.5,1232 L608,1213" fill="none" stroke="#ee7d31" stroke-width="5"/>
<path fill="#12a5d3" transform="translate(2.5,1.5)" d="M901,1215 Q897,1217 894,1217 Q898,1214 899,1210 Q895,1213 891,1214 Q886,1208 879,1210 Q871,1213 873,1222 Q862,1221 855,1213 Q851,1221 858,1227 Q855,1227 853,1226 Q853,1233 860,1236 Q857,1237 855,1236 Q858,1242 865,1243 Q858,1248 851,1247 Q870,1257 886,1246 Q899,1236 898,1221 Q901,1218 901,1215 Z"/>
<rect x="1178" y="1211.1" width="39.9" height="40.8" rx="2.5" fill="#2271ae"/>
<path fill="#fff" d="M1199,1251.9 L1199,1236.6 L1193.9,1236.6 L1193.9,1230.2 L1199,1230.2 L1199,1225 Q1199,1217.5 1207,1217.5 L1211.9,1217.5 L1211.9,1223.3 L1208.5,1223.3 Q1206.1,1223.3 1206.1,1226 L1206.1,1230.2 L1211.9,1230.2 L1211,1236.6 L1206.1,1236.6 L1206.1,1251.9 Z"/>
<rect x="1596.5" y="1214" width="53.5" height="37" rx="9" fill="#e94035"/>
<polygon fill="#fff" points="1618,1223 1618,1242.5 1633,1232.7"/>
</svg>
</body></html>
